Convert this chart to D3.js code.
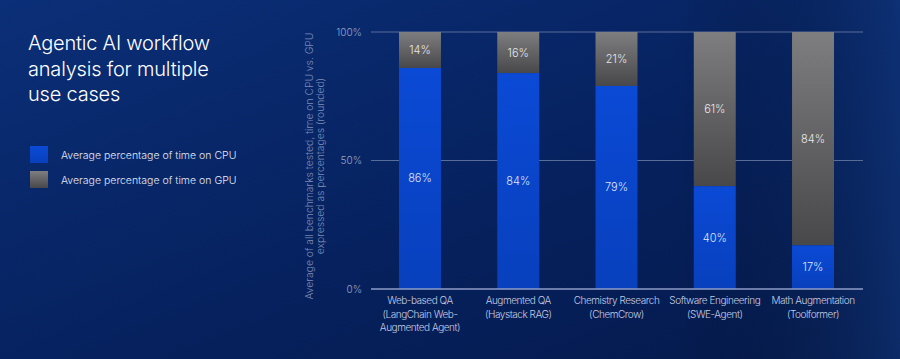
<!DOCTYPE html>
<html>
<head>
<meta charset="utf-8">
<script src="https://cdn.jsdelivr.net/npm/d3@7"></script>
<style>
  html, body { margin: 0; padding: 0; background: #061c52; }
  svg { display: block; font-family: Inter, "Open Sans", sans-serif; font-weight: 300; }
</style>
</head>
<body>
<div id="chart"></div>
<script>
// data
var categories = [
    ["Web-based QA", "(LangChain Web-", "Augmented Agent)"],
    ["Augmented QA", "(Haystack RAG)"],
    ["Chemistry Research", "(ChemCrow)"],
    ["Software Engineering", "(SWE-Agent)"],
    ["Math Augmentation", "(Toolformer)"]
];
var cpuValues = [86, 84, 79, 40, 17];
var gpuValues = [14, 16, 21, 61, 84];
var yTicks = [0, 50, 100];
var titleLines = ["Agentic AI workflow", "analysis for multiple", "use cases"];
var legendLabels = ["Average percentage of time on CPU", "Average percentage of time on GPU"];
var yTitleLines = ["Average of all benchmarks tested, time on CPU vs. GPU", "expressed as percentages (rounded)"];

var W = 900, H = 359;
var svg = d3.select("#chart").append("svg").attr("width", W).attr("height", H);
var defs = svg.append("defs");

var bg = defs.append("linearGradient").attr("id", "bg").attr("x1", 0).attr("y1", 0).attr("x2", 1).attr("y2", 1);
bg.append("stop").attr("offset", "0%").attr("stop-color", "#0b2f78");
bg.append("stop").attr("offset", "55%").attr("stop-color", "#06215e");
bg.append("stop").attr("offset", "100%").attr("stop-color", "#051a4c");
var bg2 = defs.append("linearGradient").attr("id", "bg2").attr("x1", 0).attr("y1", 0).attr("x2", 1).attr("y2", 0);
bg2.append("stop").attr("offset", "0%").attr("stop-color", "#000").attr("stop-opacity", 0);
bg2.append("stop").attr("offset", "75%").attr("stop-color", "#000").attr("stop-opacity", 0);
bg2.append("stop").attr("offset", "100%").attr("stop-color", "#1a4a9a").attr("stop-opacity", 0.35);

var gray = defs.append("linearGradient").attr("id", "gray").attr("x1", 0).attr("y1", 0).attr("x2", 0).attr("y2", 1);
gray.append("stop").attr("offset", "0%").attr("stop-color", "#7e7e80");
gray.append("stop").attr("offset", "100%").attr("stop-color", "#48484a");
var blue = defs.append("linearGradient").attr("id", "blue").attr("x1", 0).attr("y1", 0).attr("x2", 0).attr("y2", 1);
blue.append("stop").attr("offset", "0%").attr("stop-color", "#0b4ad6");
blue.append("stop").attr("offset", "100%").attr("stop-color", "#0840bd");

svg.append("rect").attr("width", W).attr("height", H).attr("fill", "url(#bg)");
svg.append("rect").attr("width", W).attr("height", H).attr("fill", "url(#bg2)");

// title
svg.append("text").attr("x", 28).attr("y", 50).attr("fill", "#ffffff").attr("font-size", 20).attr("font-weight", 300)
    .attr("letter-spacing", -0.2)
    .selectAll("tspan").data(titleLines).enter().append("tspan")
    .attr("x", 28).attr("dy", (d, i) => i === 0 ? 0 : 25.5).text(d => d);

// legend
var legendColors = ["url(#blue)", "url(#gray)"];
var legend = svg.append("g");
legendLabels.forEach(function(lbl, i) {
    legend.append("rect").attr("x", 30).attr("y", 146 + i * 25).attr("width", 18).attr("height", 17).attr("fill", legendColors[i]);
    legend.append("text").attr("x", 61).attr("y", 159 + i * 25).attr("fill", "#e4e8f4").attr("font-size", 10.5).text(lbl);
});

var x = d3.scaleBand().domain(d3.range(categories.length)).range([371, 862]).paddingInner(0.573).paddingOuter(0.285);
var y = d3.scaleLinear().domain([0, 100]).range([289, 32]);

// grid lines
svg.append("g").selectAll("line").data(yTicks.filter(t => t > 0)).enter().append("line")
    .attr("x1", 371).attr("x2", 863).attr("y1", d => y(d)).attr("y2", d => y(d))
    .attr("stroke", "#5a6c98").attr("stroke-width", 1);

// y axis tick labels
var yAxis = d3.axisLeft(y).tickValues(yTicks).tickFormat(d => d + "%").tickSize(0).tickPadding(9);
var gy = svg.append("g").attr("transform", "translate(371,0)").call(yAxis);
gy.select(".domain").remove();
gy.selectAll("text").attr("fill", "#9aa4c4").attr("font-size", 10).attr("font-family", "Inter, sans-serif").attr("font-weight", 300);

// y axis title
svg.append("text").attr("transform", "translate(313,166) rotate(-90)").attr("text-anchor", "middle")
    .attr("fill", "#7d8cb6").attr("font-size", 10.3)
    .selectAll("tspan").data(yTitleLines).enter().append("tspan")
    .attr("x", 0).attr("dy", (d, i) => i === 0 ? 0 : 11).text(d => d);

// bars
var bars = svg.append("g").selectAll("g").data(categories).enter().append("g");
bars.append("rect").attr("x", (d, i) => x(i)).attr("width", x.bandwidth())
    .attr("y", y(100)).attr("height", (d, i) => y(cpuValues[i]) - y(100)).attr("fill", "url(#gray)");
bars.append("rect").attr("x", (d, i) => x(i)).attr("width", x.bandwidth())
    .attr("y", (d, i) => y(cpuValues[i])).attr("height", (d, i) => y(0) - y(cpuValues[i])).attr("fill", "url(#blue)");

bars.append("text").attr("x", (d, i) => x(i) + x.bandwidth() / 2)
    .attr("y", (d, i) => (y(100) + y(cpuValues[i])) / 2 + 4)
    .attr("text-anchor", "middle").attr("fill", "#e8e8ea").attr("font-size", 11)
    .text((d, i) => gpuValues[i] + "%");
bars.append("text").attr("x", (d, i) => x(i) + x.bandwidth() / 2)
    .attr("y", (d, i) => (y(0) + y(cpuValues[i])) / 2 + 4)
    .attr("text-anchor", "middle").attr("fill", "#dfe6fa").attr("font-size", 11)
    .text((d, i) => cpuValues[i] + "%");

// baseline
svg.append("line").attr("x1", 371).attr("x2", 863).attr("y1", y(0)).attr("y2", y(0))
    .attr("stroke", "#8e9cc8").attr("stroke-width", 1.5);

// x labels
var xl = svg.append("g").selectAll("text").data(categories).enter().append("text")
    .attr("text-anchor", "middle").attr("fill", "#c6cde4").attr("font-size", 10)
    .attr("letter-spacing", -0.45);
xl.selectAll("tspan").data((d, i) => d.map(s => ({s: s, i: i}))).enter().append("tspan")
    .attr("x", d => x(d.i) + x.bandwidth() / 2).attr("y", (d, j) => 304 + j * 13.5).text(d => d.s);
</script>
</body>
</html>
